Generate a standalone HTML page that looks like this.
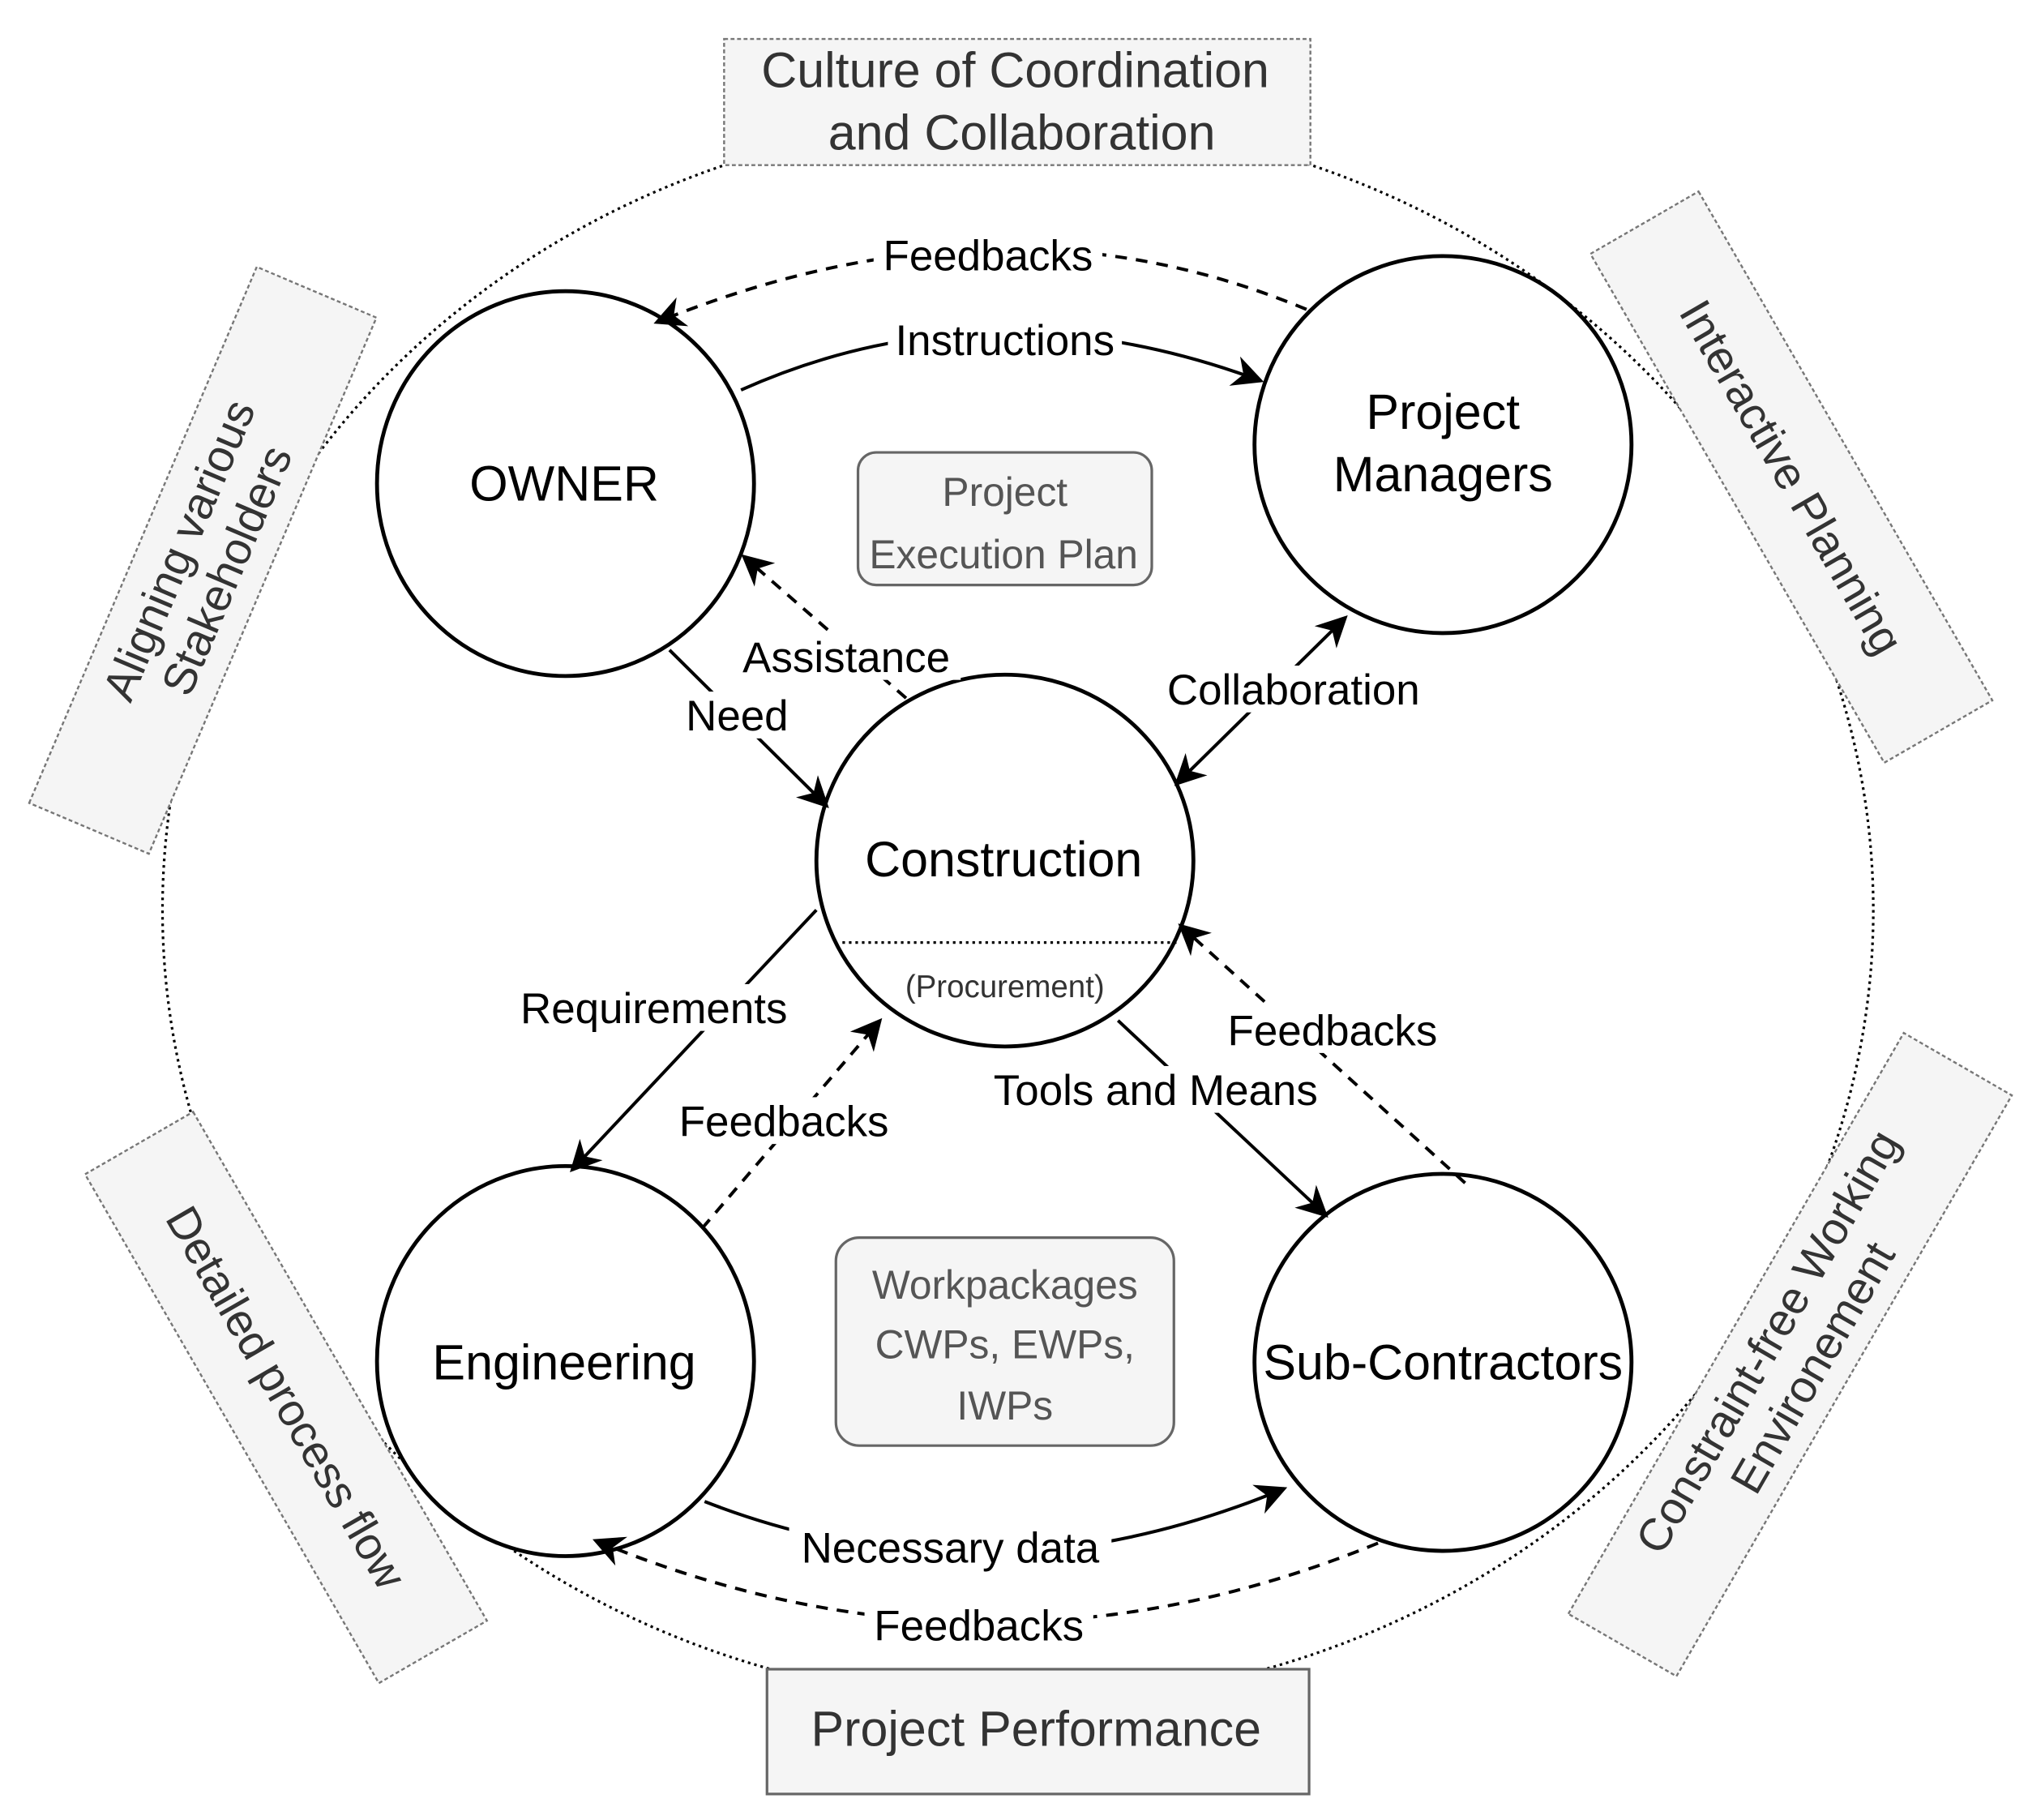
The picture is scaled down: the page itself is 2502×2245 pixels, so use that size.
<!DOCTYPE html>
<html><head><meta charset="utf-8"><style>
html,body{margin:0;padding:0;background:#fff;}
svg{display:block;}
text{font-family:"Liberation Sans",Arial,sans-serif;}
</style></head><body>
<svg width="2502" height="2245" viewBox="0 0 1560 1400" preserveAspectRatio="none" xmlns="http://www.w3.org/2000/svg">
<defs>
<marker id="b" viewBox="0 0 10 10" refX="9" refY="5" markerWidth="24" markerHeight="24" markerUnits="userSpaceOnUse" orient="auto-start-reverse">
<path d="M0,0 L10,5 L0,10 L3,5 z" fill="#000"/></marker>
</defs>
<rect width="1560" height="1400" fill="#fff"/>
<ellipse cx="783" cy="700" rx="658" ry="610" fill="none" stroke="#000" stroke-width="2" stroke-dasharray="2,3"/>

<rect x="557" y="30" width="451" height="97" fill="#f5f5f5" stroke="#777" stroke-width="1.5" stroke-dasharray="3,2"/>
<text x="781" y="67" font-size="38" text-anchor="middle" fill="#333">Culture of Coordination</text>
<text x="786" y="115" font-size="38" text-anchor="middle" fill="#333">and Collaboration</text>

<rect x="590" y="1284" width="417" height="96" fill="#f5f5f5" stroke="#666" stroke-width="2"/>
<text x="797" y="1343" font-size="38" text-anchor="middle" fill="#333">Project Performance</text>

<g transform="translate(156,431) rotate(-67)">
<rect x="-224" y="-50" width="448" height="100" fill="#f5f5f5" stroke="#777" stroke-width="1.5" stroke-dasharray="3,2"/>
<text x="0" y="-8" font-size="35" text-anchor="middle" fill="#333">Aligning various</text>
<text x="0" y="32" font-size="35" text-anchor="middle" fill="#333">Stakeholders</text>
</g>
<g transform="translate(1378,367) rotate(60)">
<rect x="-226" y="-48" width="452" height="96" fill="#f5f5f5" stroke="#777" stroke-width="1.5" stroke-dasharray="3,2"/>
<text x="0" y="12" font-size="35" text-anchor="middle" fill="#333">Interactive Planning</text>
</g>
<g transform="translate(220,1075) rotate(60)">
<rect x="-226" y="-48" width="452" height="96" fill="#f5f5f5" stroke="#777" stroke-width="1.5" stroke-dasharray="3,2"/>
<text x="0" y="12" font-size="35" text-anchor="middle" fill="#333">Detailed process flow</text>
</g>
<g transform="translate(1377,1042) rotate(-60)">
<rect x="-258" y="-48" width="516" height="96" fill="#f5f5f5" stroke="#777" stroke-width="1.5" stroke-dasharray="3,2"/>
<text x="0" y="-8" font-size="35" text-anchor="middle" fill="#333">Constraint-free Working</text>
<text x="0" y="32" font-size="35" text-anchor="middle" fill="#333">Environement</text>
</g>

<rect x="660" y="348" width="226" height="102" rx="14" fill="#f5f5f5" stroke="#666" stroke-width="2"/>
<text x="773" y="389" font-size="31" text-anchor="middle" fill="#555">Project</text>
<text x="772" y="437" font-size="31" text-anchor="middle" fill="#555">Execution Plan</text>
<rect x="643" y="952" width="260" height="160" rx="18" fill="#f5f5f5" stroke="#666" stroke-width="2"/>
<text x="773" y="999" font-size="31" text-anchor="middle" fill="#555">Workpackages</text>
<text x="773" y="1045" font-size="31" text-anchor="middle" fill="#555">CWPs, EWPs,</text>
<text x="773" y="1092" font-size="31" text-anchor="middle" fill="#555">IWPs</text>

<g fill="#fff" stroke="#000" stroke-width="3">
<ellipse cx="435" cy="372" rx="145" ry="148"/>
<ellipse cx="1110" cy="342" rx="145" ry="145"/>
<ellipse cx="773" cy="662" rx="145" ry="143"/>
<ellipse cx="435" cy="1047" rx="145" ry="150"/>
<ellipse cx="1110" cy="1048" rx="145" ry="145"/>
</g>
<line x1="648" y1="725" x2="908" y2="725" stroke="#000" stroke-width="2" stroke-dasharray="2,3"/>
<text x="434" y="385" font-size="38" text-anchor="middle">OWNER</text>
<text x="1110" y="330" font-size="38" text-anchor="middle">Project</text>
<text x="1110" y="378" font-size="38" text-anchor="middle">Managers</text>
<text x="772" y="674" font-size="38" text-anchor="middle">Construction</text>
<text x="773" y="767" font-size="24" text-anchor="middle" fill="#333">(Procurement)</text>
<text x="434" y="1061" font-size="38" text-anchor="middle">Engineering</text>
<text x="1110" y="1061" font-size="38" text-anchor="middle">Sub-Contractors</text>

<g fill="none" stroke="#000" stroke-width="2.5">
<path d="M1005,238 Q770,140 505,248" stroke-dasharray="9,7" marker-end="url(#b)"/>
<path d="M570,300 Q760,215 970,293" marker-end="url(#b)"/>
<path d="M697,537 L572,428" stroke-dasharray="9,7" marker-end="url(#b)"/>
<path d="M515,500 L636,620" marker-end="url(#b)"/>
<path d="M905,603 L1035,475" marker-end="url(#b)" marker-start="url(#b)"/>
<path d="M628,700 L440,900" marker-end="url(#b)"/>
<path d="M540,945 L677,785" stroke-dasharray="9,7" marker-end="url(#b)"/>
<path d="M860,785 L1020,935" marker-end="url(#b)"/>
<path d="M1127,910 L908,712" stroke-dasharray="9,7" marker-end="url(#b)"/>
<path d="M542,1155 Q760,1240 988,1145" marker-end="url(#b)"/>
<path d="M1060,1187 Q760,1310 458,1185" stroke-dasharray="9,7" marker-end="url(#b)"/>
</g>

<g font-size="33" text-anchor="middle">
<rect x="672" y="179" width="176" height="36" fill="#fff"/>
<text x="760" y="208">Feedbacks</text>
<rect x="683" y="244" width="180" height="36" fill="#fff"/>
<text x="773" y="273">Instructions</text>
<rect x="563" y="487" width="176" height="36" fill="#fff"/>
<text x="651" y="517">Assistance</text>
<rect x="522" y="532" width="90" height="36" fill="#fff"/>
<text x="567" y="562">Need</text>
<rect x="888" y="512" width="214" height="36" fill="#fff"/>
<text x="995" y="542">Collaboration</text>
<rect x="390" y="757" width="226" height="36" fill="#fff"/>
<text x="503" y="787">Requirements</text>
<rect x="515" y="844" width="176" height="36" fill="#fff"/>
<text x="603" y="874">Feedbacks</text>
<rect x="755" y="820" width="268" height="36" fill="#fff"/>
<text x="889" y="850">Tools and Means</text>
<rect x="937" y="774" width="176" height="36" fill="#fff"/>
<text x="1025" y="804">Feedbacks</text>
<rect x="607" y="1172" width="248" height="36" fill="#fff"/>
<text x="731" y="1202">Necessary data</text>
<rect x="665" y="1232" width="176" height="36" fill="#fff"/>
<text x="753" y="1262">Feedbacks</text>
</g>
</svg>
</body></html>
